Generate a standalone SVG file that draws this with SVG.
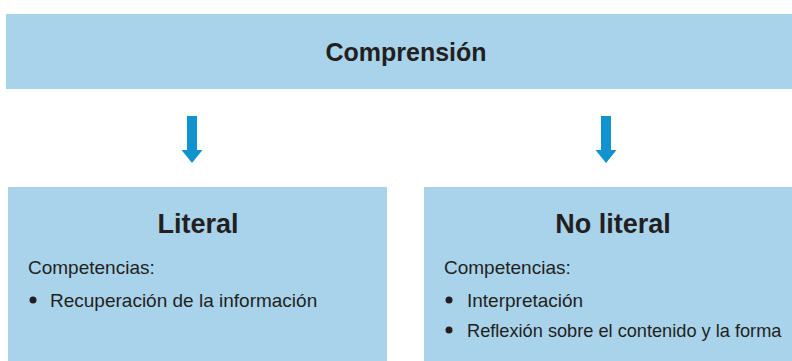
<svg xmlns="http://www.w3.org/2000/svg" width="792" height="361" viewBox="0 0 792 361">
<style>
.box{fill:#a8d3eb}
.t{font-family:"Liberation Sans",Arial,sans-serif;fill:#231f20}
.h{font-weight:bold;text-anchor:middle}
.b{font-size:19px}
.arr{fill:#1193d0}
</style>
<rect width="792" height="361" fill="#fff"/>
<g id="comprension">
<rect class="box" x="6" y="14" width="786" height="75"/>
<text class="t h" x="406" y="61" font-size="25">Comprensión</text>
</g>
<g id="literal">
<rect class="box" x="8" y="187" width="379" height="174"/>
<text class="t h" x="198" y="233" font-size="27">Literal</text>
<text class="t b" x="28" y="274">Competencias:</text>
<circle cx="33" cy="300" r="3.5" fill="#231f20"/>
<text class="t b" x="50" y="307">Recuperación de la información</text>
</g>
<g id="no-literal">
<rect class="box" x="424" y="187" width="368" height="174"/>
<text class="t h" x="613" y="233" font-size="27">No literal</text>
<text class="t b" x="444" y="274">Competencias:</text>
<circle cx="449" cy="300" r="3.5" fill="#231f20"/>
<text class="t b" x="467" y="307">Interpretación</text>
<circle cx="449" cy="330" r="3.5" fill="#231f20"/>
<text class="t" x="467" y="337" font-size="18.2">Reflexión sobre el contenido y la forma</text>
</g>
<g id="connectors">
<path class="arr" d="M187 116H197V150H202.5L192 163L181.5 150H187Z"/>
<path class="arr" d="M601 116H611V150H616.5L606 163L595.5 150H601Z"/>
</g>
</svg>
